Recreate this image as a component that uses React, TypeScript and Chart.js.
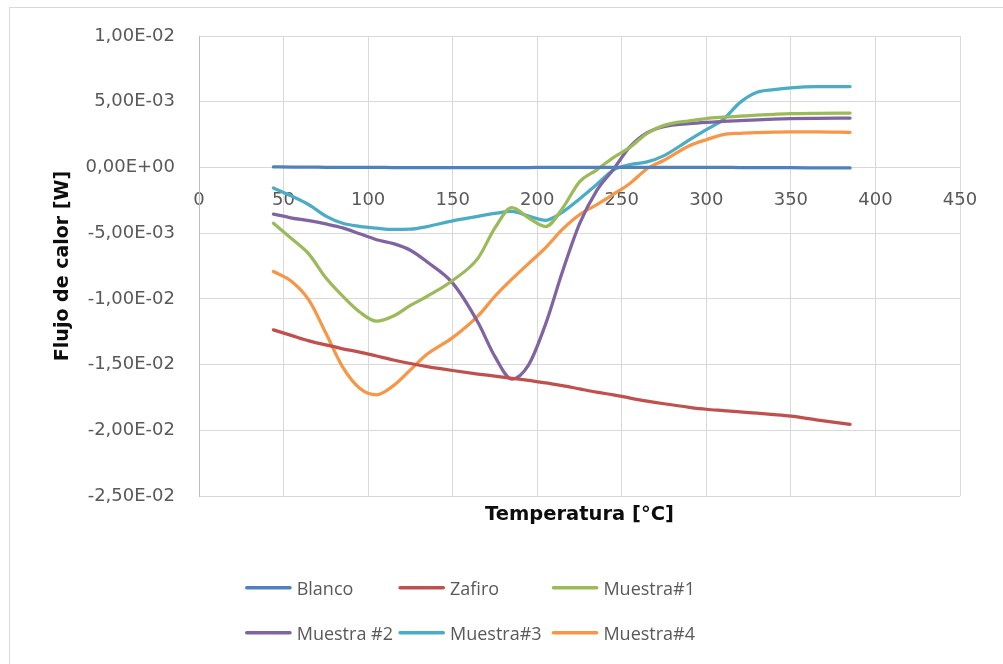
import React, { useEffect, useRef } from "react";
import { Chart, registerables } from "chart.js";

Chart.register(...registerables);

// Temperature [°C] sample points (shared by all series)
const temperatures = [
  44, 55, 65, 75, 85, 95, 105, 115, 125, 135,
  150, 165, 175, 185, 195, 205, 215, 225, 235, 245,
  255, 265, 275, 290, 300, 310, 320, 330, 340, 350,
  365, 385,
];

// Heat flow [W]
const blanco = [
  0.00004, 0.00003, 0.00002, 0.00001, 0, 0, 0, -0.00001, -0.00001, -0.00001,
  -0.00001, -0.00001, -0.00001, -0.00001, -0.00001, 0, 0, 0, 0, 0,
  0, 0, 0, 0, 0, 0, -0.00001, -0.00001, -0.00002, -0.00002,
  -0.00003, -0.00004,
];
const zafiro = [
  -0.01236, -0.0128, -0.0132, -0.0135, -0.0138, -0.01405, -0.01435, -0.01465, -0.01492, -0.01515,
  -0.01545, -0.01572, -0.01588, -0.01605, -0.0162, -0.0164, -0.0166, -0.01685, -0.0171, -0.0173,
  -0.01755, -0.01778, -0.01798, -0.01825, -0.0184, -0.0185, -0.0186, -0.0187, -0.0188, -0.01892,
  -0.0192, -0.01955,
];
const muestra1 = [
  -0.00424, -0.00545, -0.0066, -0.0084, -0.0098, -0.011, -0.0117, -0.0113, -0.0105, -0.0098,
  -0.0086, -0.0069, -0.0046, -0.00305, -0.00385, -0.0045, -0.0031, -0.0011, -0.0002, 0.00075,
  0.00155, 0.0026, 0.0032, 0.00355, 0.00372, 0.00382, 0.0039, 0.00398, 0.00404, 0.00409,
  0.00412, 0.00414,
];
const muestra2 = [
  -0.00355, -0.00385, -0.00405, -0.0043, -0.0046, -0.00505, -0.0055, -0.0058, -0.0063, -0.0072,
  -0.0088, -0.0118, -0.0144, -0.0161, -0.015, -0.0119, -0.0079, -0.0043, -0.0018, -0.00015,
  0.0016, 0.00265, 0.0031, 0.00333, 0.00343, 0.0035, 0.00356, 0.00362, 0.00367, 0.00371,
  0.00374, 0.00376,
];
const muestra3 = [
  -0.00157, -0.0022, -0.00284, -0.0037, -0.00425, -0.00448, -0.00462, -0.00472, -0.0047, -0.0045,
  -0.00406, -0.00372, -0.0035, -0.00335, -0.0037, -0.00402, -0.0034, -0.0024, -0.00132, -0.0002,
  0.00022, 0.00042, 0.0009, 0.0021, 0.00287, 0.00365, 0.00495, 0.00572, 0.00592, 0.00605,
  0.00614, 0.00615,
];
const muestra4 = [
  -0.00792, -0.0087, -0.0101, -0.0126, -0.0152, -0.0168, -0.0173, -0.0166, -0.0154, -0.0142,
  -0.01295, -0.0113, -0.0098, -0.0085, -0.0073, -0.0061, -0.0047, -0.0036, -0.00285, -0.00205,
  -0.0012, -0.0001, 0.00055, 0.00165, 0.00211, 0.0025, 0.0026, 0.00265, 0.00268, 0.0027,
  0.0027, 0.00267,
];

const seriesNames = ["Blanco", "Zafiro", "Muestra#1", "Muestra #2", "Muestra#3", "Muestra#4"];
const seriesValues = [blanco, zafiro, muestra1, muestra2, muestra3, muestra4];
const seriesColors = ["#4f81bd", "#c0504d", "#9bbb59", "#8064a2", "#4bacc6", "#f79646"];

const xMin = 0;
const xMax = 450;
const xStep = 50;
const yMin = -0.025;
const yMax = 0.01;
const yStep = 0.005;

const xTitle = "Temperatura [°C]";
const yTitle = "Flujo de calor [W]";

function formatSci(v: number): string {
  if (Math.abs(v) < 1e-12) return "0,00E+00";
  let e = Math.floor(Math.log10(Math.abs(v)) + 1e-9);
  let m = v / Math.pow(10, e);
  if (Math.abs(m) >= 9.995) {
    e += 1;
    m /= 10;
  }
  const ms = m.toFixed(2).replace(".", ",");
  const es = (e < 0 ? "-" : "+") + String(Math.abs(e)).padStart(2, "0");
  return ms + "E" + es;
}

const TICK_FONT = "'DejaVu Sans', sans-serif";
const LEGEND_FONT = "'Open Sans', sans-serif";

const decorPlugin = {
  id: "decor",
  beforeDraw(chart: any) {
    const ctx = chart.ctx as CanvasRenderingContext2D;
    ctx.save();
    ctx.fillStyle = "#ffffff";
    ctx.fillRect(0, 0, chart.width, chart.height);
    ctx.strokeStyle = "#d9d9d9";
    ctx.lineWidth = 1;
    ctx.strokeRect(9.5, 7.5, chart.width + 40, chart.height + 40);
    ctx.restore();
  },
  afterDraw(chart: any) {
    const ctx = chart.ctx as CanvasRenderingContext2D;
    const cols = [245, 398.3, 551.7];
    const rows = [595, 640];
    ctx.save();
    chart.data.datasets.forEach((ds: any, i: number) => {
      const cx = cols[i % 3];
      const by = rows[Math.floor(i / 3)];
      const ly = by - 7.3;
      ctx.strokeStyle = ds.borderColor;
      ctx.lineWidth = 3.5;
      ctx.lineCap = "round";
      ctx.beginPath();
      ctx.moveTo(cx + 1.75, ly);
      ctx.lineTo(cx + 45, ly);
      ctx.stroke();
      ctx.fillStyle = "#595959";
      ctx.font = `18px ${LEGEND_FONT}`;
      ctx.textBaseline = "alphabetic";
      ctx.textAlign = "left";
      ctx.fillText(ds.label, cx + 51.7, by);
    });
    ctx.restore();
  },
};

export default function App() {
  const canvasRef = useRef<HTMLCanvasElement | null>(null);

  useEffect(() => {
    const canvas = canvasRef.current;
    if (!canvas) return;
    const datasets = seriesNames.map((name, si) => ({
      label: name,
      data: temperatures.map((t, i) => ({ x: t, y: seriesValues[si][i] })),
      borderColor: seriesColors[si],
      backgroundColor: seriesColors[si],
      borderWidth: 3.25,
      pointRadius: 0,
      fill: false,
      cubicInterpolationMode: "monotone" as const,
      borderCapStyle: "round" as const,
      borderJoinStyle: "round" as const,
    }));

    const chart = new Chart(canvas, {
      type: "line",
      data: { datasets },
      options: {
        responsive: false,
        animation: false,
        devicePixelRatio: 1,
        layout: { padding: { left: 9, right: 43, top: 36, bottom: 0 } },
        plugins: {
          legend: { display: false },
          tooltip: { enabled: false },
        },
        scales: {
          x: {
            type: "linear",
            position: { y: 0 } as any,
            min: xMin,
            max: xMax,
            ticks: {
              stepSize: xStep,
              padding: 22,
              color: "#595959",
              font: { family: TICK_FONT, size: 18 },
              maxRotation: 0,
              autoSkip: false,
            },
            grid: { color: "#d9d9d9", drawTicks: false, lineWidth: 1 },
            border: { color: "#d9d9d9" },
          },
          x2: {
            type: "linear",
            position: "bottom",
            min: xMin,
            max: xMax,
            ticks: { display: false },
            grid: { display: false, drawTicks: false },
            border: { display: false },
            title: {
              display: true,
              text: xTitle,
              color: "#0d0d0d",
              font: { family: TICK_FONT, size: 19.5, weight: "bold" },
              padding: { top: 0, bottom: 137 },
            },
            afterFit(scale: any) {
              scale.height = 168;
            },
          },
          y: {
            type: "linear",
            position: "left",
            min: yMin,
            max: yMax,
            ticks: {
              stepSize: yStep,
              padding: 24,
              color: "#595959",
              font: { family: TICK_FONT, size: 18 },
              callback: (v: any) => formatSci(Number(v)),
            },
            grid: { color: "#d9d9d9", drawTicks: false, lineWidth: 1 },
            border: { color: "#bfbfbf" },
            title: {
              display: true,
              text: yTitle,
              color: "#0d0d0d",
              font: { family: TICK_FONT, size: 19, weight: "bold" },
              padding: { top: 43, bottom: 0 },
            },
            afterFit(scale: any) {
              scale.width = 190;
            },
          },
        },
      } as any,
      plugins: [decorPlugin],
    });

    return () => chart.destroy();
  }, []);

  return (
    <div
      style={{
        position: "fixed",
        left: 0,
        top: 0,
        width: 1003,
        height: 664,
        background: "#ffffff",
        overflow: "hidden",
      }}
    >
      <canvas
        ref={canvasRef}
        width={1003}
        height={664}
        style={{ display: "block", width: 1003, height: 664 }}
      />
    </div>
  );
}
